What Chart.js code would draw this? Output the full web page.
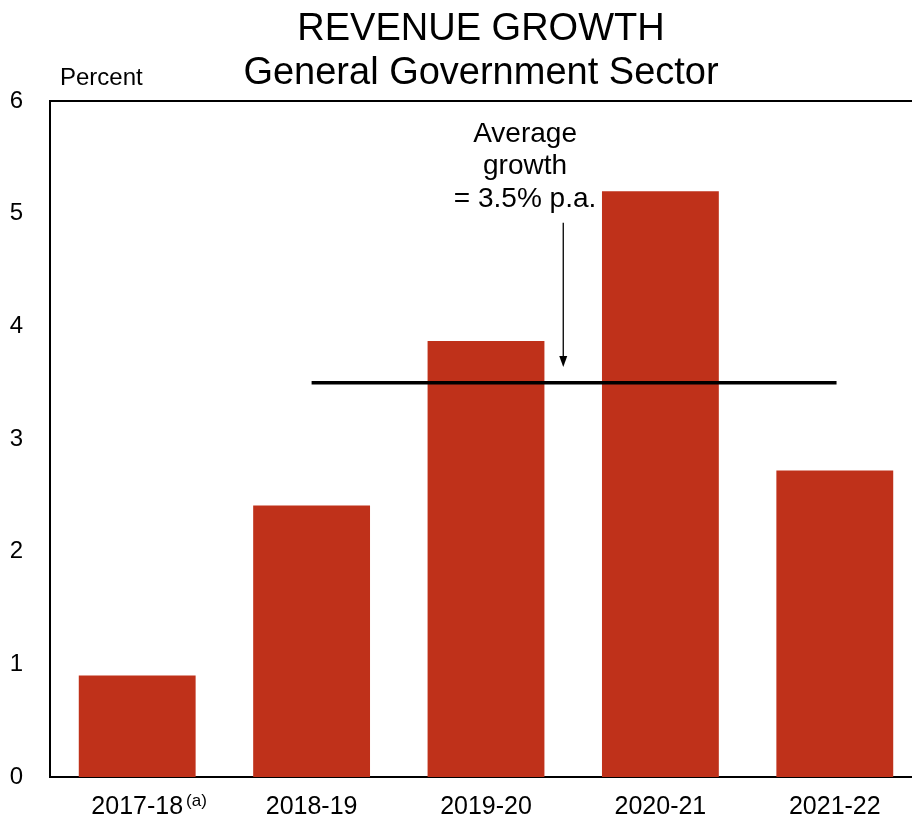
<!DOCTYPE html>
<html>
<head>
<meta charset="utf-8">
<script src="https://cdn.jsdelivr.net/npm/chart.js@4.4.1/dist/chart.umd.min.js"></script>
<style>
  html, body { margin: 0; padding: 0; background: #ffffff; overflow: hidden; }
  #wrap { width: 912px; height: 819px; position: relative; overflow: hidden; }
  #chart { display: block; }
</style>
</head>
<body>
<div id="wrap"><canvas id="chart" width="922" height="819"></canvas></div>
<script>
// Revenue growth by financial year, percent
const years = ['2017-18', '2018-19', '2019-20', '2020-21', '2021-22'];
const yearNotes = ['(a)', '', '', '', ''];
const growth = [0.9, 2.41, 3.87, 5.2, 2.72];

// Average growth line: value and the span (in category index units) it covers
const averageGrowth = 3.5;
const averageSpan = [1.0, 4.01];

// Call-out text and its arrow (x in category index units, y in percent)
const calloutLines = ['Average', 'growth', '= 3.5% p.a.'];
const calloutAt = { x: 2.224, y: 5.64 };
const arrowX = 2.443;
const arrowFrom = 4.92;
const arrowTo = 3.64;

const yTicks = [0, 1, 2, 3, 4, 5, 6];
const titleLines = ['REVENUE GROWTH', 'General Government Sector'];
const yUnit = 'Percent';

const FONT = '"Liberation Sans", Arial, Helvetica, sans-serif';
const BAR_RED = '#bf311a';

const overlay = {
  id: 'overlay',
  afterDatasetsDraw(chart) {
    const ctx = chart.ctx;
    const xs = chart.scales.x2;
    const ys = chart.scales.y;
    ctx.save();

    // title
    ctx.fillStyle = '#000';
    ctx.textAlign = 'center';
    ctx.textBaseline = 'alphabetic';
    ctx.font = '38px ' + FONT;
    const cx = 481;
    ctx.fillText(titleLines[0], cx, 40);
    ctx.fillText(titleLines[1], cx, 84);

    // unit label
    ctx.textAlign = 'left';
    ctx.font = '24px ' + FONT;
    ctx.fillText(yUnit, 60, 85);

    // call-out text
    ctx.textAlign = 'center';
    ctx.font = '28px ' + FONT;
    const tx = xs.getPixelForValue(calloutAt.x);
    const ty = ys.getPixelForValue(calloutAt.y);
    calloutLines.forEach((s, i) => ctx.fillText(s, tx, ty + i * 32.5));

    // arrow
    const ax = xs.getPixelForValue(arrowX);
    const ay0 = ys.getPixelForValue(arrowFrom);
    const ay1 = ys.getPixelForValue(arrowTo);
    ctx.strokeStyle = '#000';
    ctx.lineWidth = 1.3;
    ctx.beginPath();
    ctx.moveTo(ax, ay0);
    ctx.lineTo(ax, ay1 - 8);
    ctx.stroke();
    ctx.beginPath();
    ctx.moveTo(ax, ay1);
    ctx.lineTo(ax - 4, ay1 - 11);
    ctx.lineTo(ax + 4, ay1 - 11);
    ctx.closePath();
    ctx.fill();

    // superscript notes after category labels
    const xc = chart.scales.x;
    ctx.textAlign = 'left';
    yearNotes.forEach((note, i) => {
      if (!note) return;
      ctx.font = '25px ' + FONT;
      const w = ctx.measureText(years[i]).width;
      ctx.font = '17px ' + FONT;
      ctx.fillText(note, xc.getPixelForValue(i) + w / 2 + 3, 806);
    });
    ctx.restore();
  }
};

new Chart(document.getElementById('chart'), {
  type: 'bar',
  data: {
    labels: years,
    datasets: [
      {
        type: 'bar',
        data: growth,
        backgroundColor: BAR_RED,
        borderWidth: 0,
        grouped: false,
        barPercentage: 0.67,
        categoryPercentage: 1.0,
        xAxisID: 'x',
        yAxisID: 'y',
        order: 2
      },
      {
        type: 'line',
        data: [
          { x: averageSpan[0], y: averageGrowth },
          { x: averageSpan[1], y: averageGrowth }
        ],
        borderColor: '#000',
        borderWidth: 3.5,
        pointRadius: 0,
        fill: false,
        xAxisID: 'x2',
        yAxisID: 'y',
        order: 1
      }
    ]
  },
  options: {
    responsive: false,
    animation: false,
    devicePixelRatio: 1,
    layout: { padding: { top: 101, right: 0, left: 0, bottom: 0 } },
    plugins: {
      legend: { display: false },
      tooltip: { enabled: false },
      title: { display: false }
    },
    scales: {
      x: {
        type: 'category',
        position: 'bottom',
        offset: true,
        grid: { display: false, drawTicks: false },
        border: { display: true, color: '#000', width: 2 },
        ticks: {
          color: '#000',
          font: { family: FONT, size: 25 },
          padding: 15,
          maxRotation: 0,
          autoSkip: false
        },
        afterFit(s) { s.height = 42; }
      },
      x2: {
        type: 'linear',
        position: 'top',
        offset: false,
        min: -0.5,
        max: 4.5,
        grid: { display: false, drawTicks: false },
        border: { display: true, color: '#000', width: 2 },
        ticks: { display: false },
        afterFit(s) { s.height = 0; }
      },
      y: {
        min: 0,
        max: 6,
        grid: { display: false, drawTicks: false },
        border: { display: true, color: '#000', width: 2 },
        afterBuildTicks(s) { s.ticks = yTicks.map(v => ({ value: v })); },
        ticks: {
          color: '#000',
          font: { family: FONT, size: 24 },
          padding: 27
        },
        afterFit(s) { s.width = 50; }
      }
    }
  },
  plugins: [overlay]
});
</script>
</body>
</html>
